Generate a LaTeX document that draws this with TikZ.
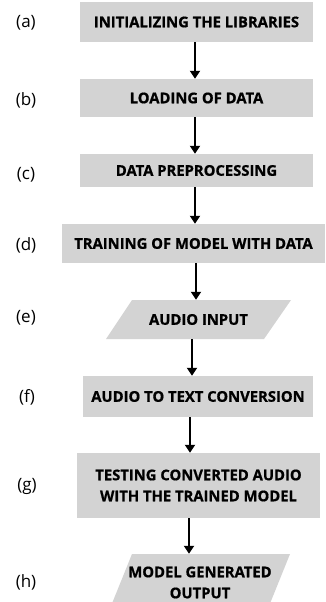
\documentclass[tikz,border=0pt]{standalone}
\usepackage{fontspec}
\setmainfont{Open Sans}[BoldFeatures={FakeBold=0.8}]
\usetikzlibrary{arrows.meta}
\definecolor{boxgray}{RGB}{211,211,211}
\begin{document}
\begin{tikzpicture}[x=1pt,y=-1pt,
  box/.style={fill=boxgray, inner sep=0pt, align=center, font=\fontsize{14.8}{21}\selectfont\bfseries},
  txt/.style={inner sep=0pt, align=center, font=\fontsize{14.8}{21}\selectfont\bfseries},
  lbl/.style={inner sep=0pt, font=\fontsize{17}{20}\selectfont},
  arr/.style={line width=2pt, -{Triangle[width=10pt,length=8pt]}}]
\useasboundingbox[fill=white] (0,0) rectangle (325,602);
% boxes
\node[box, minimum width=233pt, minimum height=40pt] (a) at (196.5,22) {INITIALIZING THE LIBRARIES};
\node[box, minimum width=233pt, minimum height=38pt] (b) at (196.5,98) {LOADING OF DATA};
\node[box, minimum width=233pt, minimum height=33pt] (c) at (196.5,170.5) {DATA PREPROCESSING};
\node[box, minimum width=263pt, minimum height=39pt] (d) at (193.5,243.5) {TRAINING OF MODEL WITH DATA};
\fill[boxgray] (106,339) -- (264,339) -- (291,300) -- (132,300) -- cycle;
\node[txt, minimum width=185pt, minimum height=39pt] (e) at (198.5,319.5) {AUDIO INPUT};
\node[box, minimum width=230pt, minimum height=41pt] (f) at (198,396.5) {AUDIO TO TEXT CONVERSION};
\node[box, minimum width=243pt, minimum height=65pt] (g) at (198.5,485.5) {TESTING CONVERTED AUDIO\\WITH THE TRAINED MODEL};
\fill[boxgray] (111,606) -- (269,606) -- (290,554) -- (132,554) -- cycle;
\node[txt, minimum width=180pt, minimum height=57pt] (h) at (200,582.5) {MODEL GENERATED\\OUTPUT};
% labels
\node[lbl] (la) at (26,23) {(a)};
\node[lbl] (lb) at (26,100) {(b)};
\node[lbl] (lc) at (26,175) {(c)};
\node[lbl] (ld) at (26,245) {(d)};
\node[lbl] (le) at (26,318) {(e)};
\node[lbl] (lf) at (27,397) {(f)};
\node[lbl] (lg) at (27,486) {(g)};
\node[lbl] (lh) at (26,582) {(h)};
% arrows
\draw[arr] ([xshift=-1.5pt]a.south) -- ([xshift=-1.5pt]b.north);
\draw[arr] ([xshift=-1.5pt]b.south) -- ([xshift=-1.5pt]c.north);
\draw[arr] ([xshift=-1.5pt]c.south) -- ([xshift=1.5pt]d.north);
\draw[arr] ([xshift=2.5pt]d.south) -- ([xshift=-2.5pt]e.north);
\draw[arr] ([xshift=-6.5pt]e.south) -- ([xshift=-6pt]f.north);
\draw[arr] ([xshift=-8pt]f.south) -- ([xshift=-8.5pt]g.north);
\draw[arr] ([xshift=-9.5pt]g.south) -- ([xshift=-11pt]h.north);
\end{tikzpicture}
\end{document}
